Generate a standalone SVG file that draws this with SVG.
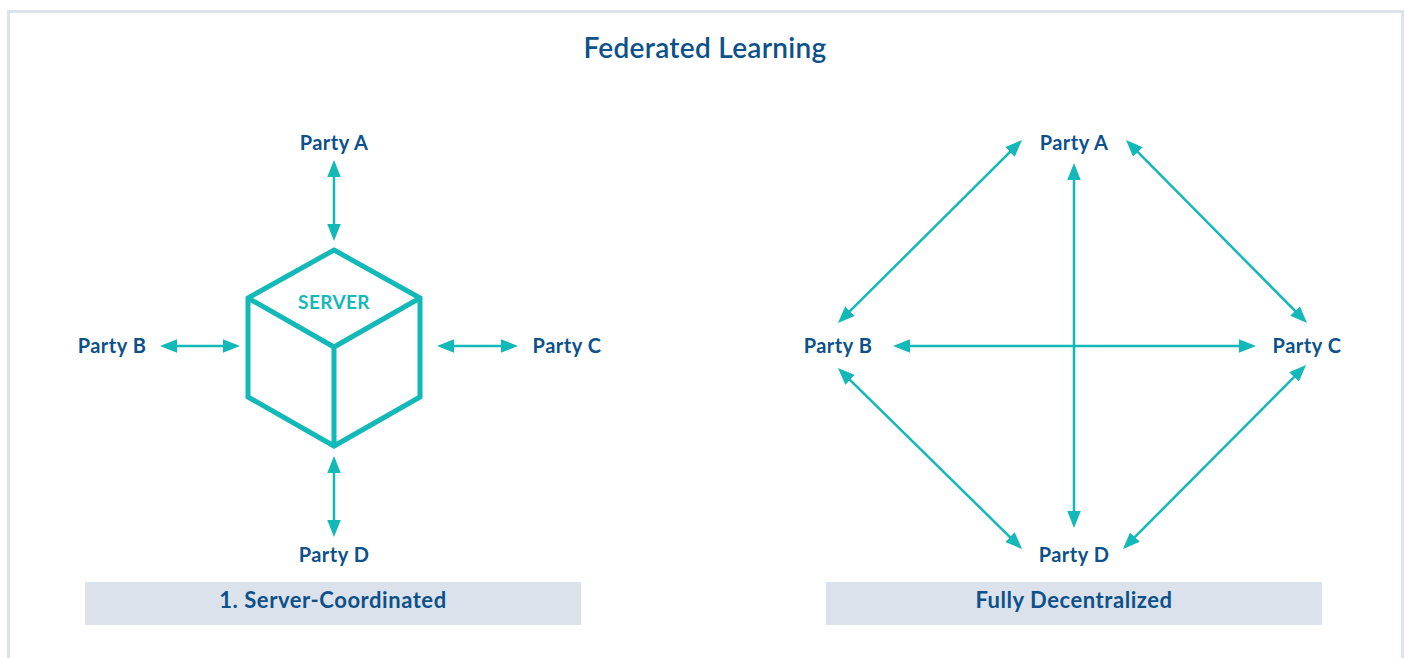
<svg xmlns="http://www.w3.org/2000/svg" width="1405" height="658" viewBox="0 0 1405 658">
<style>
.lbl{font-family:Lato,"Open Sans","Liberation Sans",sans-serif;font-weight:700;font-size:20px;letter-spacing:0.5px;fill:#0c5189;text-anchor:middle}
.title{font-family:Lato,"Open Sans","Liberation Sans",sans-serif;font-weight:600;font-size:28px;letter-spacing:0.3px;fill:#0c5189;text-anchor:middle}
.cap{font-family:Lato,"Open Sans","Liberation Sans",sans-serif;font-weight:700;font-size:22px;letter-spacing:0.55px;fill:#0c5189;text-anchor:middle}
.srv{font-family:Lato,"Open Sans","Liberation Sans",sans-serif;font-weight:700;font-size:19px;letter-spacing:0.4px;fill:#13b8b8;text-anchor:middle}
.conn{stroke:#13b8b8;stroke-width:2.5;fill:none;marker-start:url(#ah);marker-end:url(#ah)}
.capbox{fill:#dce2eb}
</style>
<defs>
<marker id="ah" markerUnits="userSpaceOnUse" markerWidth="17" markerHeight="14" refX="13" refY="6.75" orient="auto-start-reverse" viewBox="0 0 17 13.5">
<path d="M0,0 L17,6.75 L0,13.5 Z" fill="#13b8b8"/>
</marker>
</defs>
<rect x="0" y="0" width="1405" height="658" fill="#ffffff"/>
<rect x="8.5" y="11.5" width="1394" height="660" fill="none" stroke="#dde3ec" stroke-width="3"/>
<text class="title" x="705" y="58">Federated Learning</text>

<g id="server">
<path d="M334,250 L420,298 L420,397 L334,446 L248,397 L248,298 Z M248,298 L334,347 L420,298 M334,347 L334,446" fill="none" stroke="#13b8b8" stroke-width="5" stroke-linejoin="miter"/>
<text class="srv" x="334" y="309">SERVER</text>
</g>
<g id="l-party-a"><text class="lbl" x="334" y="150">Party A</text></g>
<g id="l-party-b"><text class="lbl" x="112" y="353">Party B</text></g>
<g id="l-party-c"><text class="lbl" x="567" y="353">Party C</text></g>
<g id="l-party-d"><text class="lbl" x="334" y="562">Party D</text></g>

<g id="r-party-a"><text class="lbl" x="1074" y="150">Party A</text></g>
<g id="r-party-b"><text class="lbl" x="838" y="353">Party B</text></g>
<g id="r-party-c"><text class="lbl" x="1307" y="353">Party C</text></g>
<g id="r-party-d"><text class="lbl" x="1074" y="562">Party D</text></g>

<g id="connectors">
<line class="conn" x1="334" y1="164" x2="334" y2="237"/>
<line class="conn" x1="164" y1="346" x2="236" y2="346"/>
<line class="conn" x1="441" y1="346" x2="514" y2="346"/>
<line class="conn" x1="334" y1="460" x2="334" y2="533"/>

<line class="conn" x1="1019.2" y1="142.8" x2="840.8" y2="320.2"/>
<line class="conn" x1="1128.8" y1="142.8" x2="1304.2" y2="320.2"/>
<line class="conn" x1="840.8" y1="370.8" x2="1019.2" y2="546.2"/>
<line class="conn" x1="1303.2" y1="367.8" x2="1125.8" y2="546.2"/>
<line class="conn" x1="1074" y1="167" x2="1074" y2="524"/>
<line class="conn" x1="897" y1="346" x2="1252" y2="346"/>
</g>

<g id="caption-left">
<rect class="capbox" x="85" y="582" width="496" height="43"/>
<text class="cap" x="333" y="608">1. Server-Coordinated</text>
</g>
<g id="caption-right">
<rect class="capbox" x="826" y="582" width="496" height="43"/>
<text class="cap" x="1074" y="608">Fully Decentralized</text>
</g>
</svg>
